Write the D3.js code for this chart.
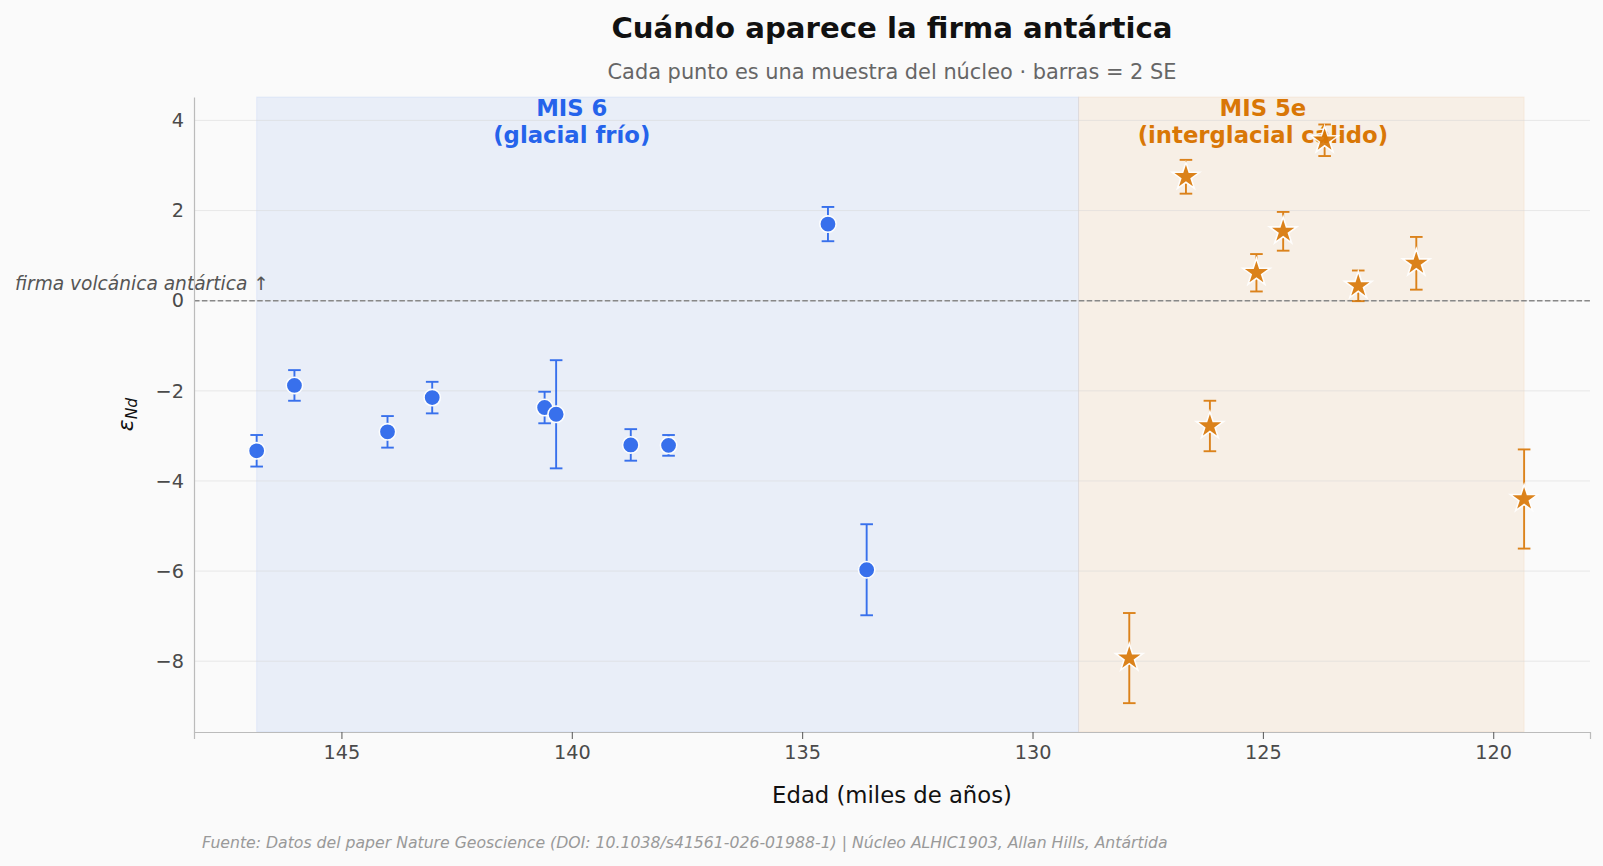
<!DOCTYPE html>
<html>
<head>
<meta charset="utf-8">
<script src="https://cdn.jsdelivr.net/npm/d3@7"></script>
<style>
  html, body { margin: 0; padding: 0; background: #fafafa; }
  svg { display: block; font-family: "DejaVu Sans", sans-serif; }
</style>
</head>
<body>
<svg id="chart" width="1603" height="866"></svg>
<script>
// MIS 6 samples (glacial)
const mis6Age = [146.84, 146.02, 144.0, 143.03, 140.59, 140.34, 138.72, 137.9, 134.44, 133.6];
const mis6Eps = [-3.33, -1.88, -2.91, -2.15, -2.37, -2.52, -3.2, -3.21, 1.7, -5.97];
const mis6Err = [0.35, 0.34, 0.35, 0.35, 0.35, 1.2, 0.35, 0.23, 0.38, 1.01];

// MIS 5e samples (interglacial)
const mis5eAge = [127.9, 126.67, 126.15, 125.14, 124.56, 123.66, 122.93, 121.67, 119.33];
const mis5eEps = [-7.93, 2.75, -2.78, 0.62, 1.54, 3.56, 0.33, 0.83, -4.4];
const mis5eErr = [1.0, 0.375, 0.56, 0.415, 0.43, 0.35, 0.34, 0.585, 1.1];

const misBoundary = 129;
const periodNames = ["MIS 6", "MIS 5e"];
const periodSub = ["(glacial frío)", "(interglacial cálido)"];
const periodLabelAge = [140, 125];

const xTicks = [145, 140, 135, 130, 125, 120];
const yTicks = [-8, -6, -4, -2, 0, 2, 4];

document.addEventListener('DOMContentLoaded', function () {
  const svg = d3.select("#chart");
  const margin = { top: 97, right: 13, bottom: 134, left: 194 };
  const width = +svg.attr("width");
  const height = +svg.attr("height");
  const innerW = width - margin.left - margin.right;
  const innerH = height - margin.top - margin.bottom;

  const blue = "#2563eb";
  const orange = "#d97706";

  const x = d3.scaleLinear().domain([148.2, 117.9]).range([0, innerW]);
  const y = d3.scaleLinear().domain([-9.57, 4.52]).range([innerH, 0]);

  const g = svg.append("g").attr("transform", `translate(${margin.left},${margin.top})`);

  // shaded periods
  const spans = [
    [d3.max(mis6Age), misBoundary, blue],
    [misBoundary, d3.min(mis5eAge), orange]
  ];
  g.selectAll("rect.span")
    .data(spans)
    .join("rect")
    .attr("class", "span")
    .attr("x", d => x(d[0]))
    .attr("width", d => x(d[1]) - x(d[0]))
    .attr("y", 0)
    .attr("height", innerH)
    .attr("fill", d => d[2])
    .attr("fill-opacity", 0.08)
    .attr("stroke", d => d[2])
    .attr("stroke-opacity", 0.08)
    .attr("stroke-width", 1);

  // horizontal grid
  g.selectAll("line.grid")
    .data(yTicks)
    .join("line")
    .attr("class", "grid")
    .attr("x1", 0).attr("x2", innerW)
    .attr("y1", d => y(d)).attr("y2", d => y(d))
    .attr("stroke", "#d8d8d8")
    .attr("stroke-opacity", 0.5)
    .attr("stroke-width", 1);

  // zero line
  g.append("line")
    .attr("x1", 0).attr("x2", innerW)
    .attr("y1", y(0)).attr("y2", y(0))
    .attr("stroke", "#888")
    .attr("stroke-width", 1.5)
    .attr("stroke-dasharray", "5.5,2.4");

  g.append("text")
    .attr("x", 15 - margin.left)
    .attr("y", y(0) - 11)
    .attr("font-size", 18.6)
    .attr("font-style", "italic")
    .attr("fill", "#555")
    .text("firma volcánica antártica ↑");

  // axes
  const xAxis = g.append("g")
    .attr("transform", `translate(0,${innerH})`)
    .call(d3.axisBottom(x).tickValues(xTicks).tickSize(7).tickPadding(6).tickFormat(d3.format("d")));
  xAxis.select(".domain").attr("stroke", "#bbb").attr("stroke-width", 1.2);
  xAxis.selectAll(".tick line").attr("stroke", "#555");
  xAxis.selectAll(".tick text").attr("font-size", 19.25).attr("fill", "#4a4a4a").attr("font-family", "DejaVu Sans");

  const yAxis = g.append("g")
    .call(d3.axisLeft(y).tickValues(yTicks).tickSize(0).tickPadding(10).tickFormat(d3.format("d")));
  yAxis.select(".domain").attr("stroke", "#bbb").attr("stroke-width", 1.2);
  yAxis.selectAll(".tick text").attr("font-size", 19.25).attr("fill", "#4a4a4a").attr("font-family", "DejaVu Sans");

  // period labels (under markers)
  const labels = g.selectAll("text.period")
    .data(periodNames)
    .join("text")
    .attr("class", "period")
    .attr("text-anchor", "middle")
    .attr("font-size", 22.75)
    .attr("font-weight", "bold")
    .attr("fill", (d, i) => i === 0 ? blue : orange);
  labels.append("tspan")
    .attr("x", (d, i) => x(periodLabelAge[i]))
    .attr("y", 19)
    .text(d => d);
  labels.append("tspan")
    .attr("x", (d, i) => x(periodLabelAge[i]))
    .attr("y", 46)
    .text((d, i) => periodSub[i]);

  function drawSeries(ages, eps, errs, color, symbol, size, cls) {
    const rows = ages.map((a, i) => ({ age: a, eps: eps[i], err: errs[i] }));
    const grp = g.append("g").attr("class", cls).attr("opacity", 0.9);
    const cap = 6.3;
    grp.selectAll("line.bar")
      .data(rows)
      .join("line")
      .attr("x1", d => x(d.age)).attr("x2", d => x(d.age))
      .attr("y1", d => y(d.eps - d.err)).attr("y2", d => y(d.eps + d.err))
      .attr("stroke", color).attr("stroke-width", 1.9);
    grp.selectAll("line.capTop")
      .data(rows)
      .join("line")
      .attr("x1", d => x(d.age) - cap).attr("x2", d => x(d.age) + cap)
      .attr("y1", d => y(d.eps + d.err)).attr("y2", d => y(d.eps + d.err))
      .attr("stroke", color).attr("stroke-width", 1.9);
    grp.selectAll("line.capBot")
      .data(rows)
      .join("line")
      .attr("x1", d => x(d.age) - cap).attr("x2", d => x(d.age) + cap)
      .attr("y1", d => y(d.eps - d.err)).attr("y2", d => y(d.eps - d.err))
      .attr("stroke", color).attr("stroke-width", 1.9);
    grp.selectAll("path.mark")
      .data(rows)
      .join("path")
      .attr("d", d3.symbol().type(symbol).size(size))
      .attr("transform", d => `translate(${x(d.age)},${y(d.eps)})`)
      .attr("fill", color)
      .attr("stroke", "#fff")
      .attr("stroke-width", 1.6);
  }

  drawSeries(mis6Age, mis6Eps, mis6Err, blue, d3.symbolCircle, Math.PI * 8.2 * 8.2, "mis6");
  drawSeries(mis5eAge, mis5eEps, mis5eErr, orange, d3.symbolStar, 235, "mis5e");

  // titles
  svg.append("text")
    .attr("x", margin.left + innerW / 2)
    .attr("y", 38)
    .attr("text-anchor", "middle")
    .attr("font-size", 29.2)
    .attr("font-weight", "bold")
    .attr("fill", "#111")
    .text("Cuándo aparece la firma antártica");

  svg.append("text")
    .attr("x", margin.left + innerW / 2)
    .attr("y", 78.5)
    .attr("text-anchor", "middle")
    .attr("font-size", 20.9)
    .attr("fill", "#666")
    .text("Cada punto es una muestra del núcleo · barras = 2 SE");

  svg.append("text")
    .attr("x", margin.left + innerW / 2)
    .attr("y", 803)
    .attr("text-anchor", "middle")
    .attr("font-size", 22.75)
    .attr("fill", "#111")
    .text("Edad (miles de años)");

  const yl = svg.append("text")
    .attr("transform", `translate(133,${margin.top + innerH / 2}) rotate(-90)`)
    .attr("text-anchor", "middle")
    .attr("font-size", 22)
    .attr("font-style", "italic")
    .attr("fill", "#111");
  yl.append("tspan").text("ε");
  yl.append("tspan").attr("font-size", 15.5).attr("dy", 4).text("Nd");

  svg.append("text")
    .attr("x", 202)
    .attr("y", 848)
    .attr("font-size", 15.7)
    .attr("font-style", "italic")
    .attr("fill", "#999")
    .text("Fuente: Datos del paper Nature Geoscience (DOI: 10.1038/s41561-026-01988-1) | Núcleo ALHIC1903, Allan Hills, Antártida");
});
</script>
</body>
</html>
